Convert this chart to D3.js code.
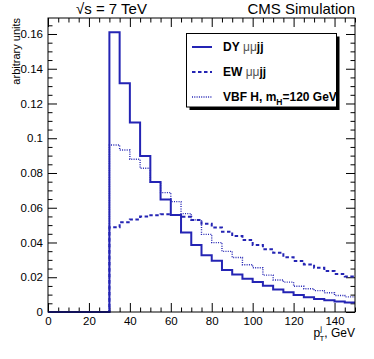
<!DOCTYPE html>
<html>
<head>
<meta charset="utf-8">
<script src="https://cdn.jsdelivr.net/npm/d3@7"></script>
<style>
  body { margin: 0; background: #fff; }
  svg { display: block; font-family: "Liberation Sans", Arial, sans-serif; }
</style>
</head>
<body>
<svg id="canvas" width="374" height="359"></svg>
<script>
'use strict';

/* bin lower edges, 5 GeV wide, 0..150 */
var binLow = d3.range(0, 150, 5);
var xTicks = [0, 20, 40, 60, 80, 100, 120, 140];
var yTicks = [0, 0.02, 0.04, 0.06, 0.08, 0.1, 0.12, 0.14, 0.16];

/* normalised pT distributions */
var dyValues = [0, 0, 0, 0, 0, 0,
  0.161, 0.1316, 0.109, 0.0898, 0.0748, 0.0648, 0.0558, 0.0457, 0.0386, 0.0326,
  0.0295, 0.0242, 0.0216, 0.0192, 0.0172, 0.0151, 0.013, 0.0113, 0.0098, 0.0085,
  0.0075, 0.0068, 0.006, 0.0054];
var ewValues = [0, 0, 0, 0, 0, 0,
  0.0488, 0.0517, 0.0533, 0.0549, 0.0557, 0.0562, 0.0558, 0.0548, 0.053, 0.0508,
  0.0487, 0.0462, 0.0437, 0.0414, 0.0386, 0.0361, 0.0341, 0.0315, 0.0294, 0.0274,
  0.0255, 0.0236, 0.0219, 0.0205];
var vbfValues = [0, 0, 0, 0, 0, 0,
  0.0961, 0.0932, 0.0879, 0.0827, 0.0748, 0.0687, 0.0635, 0.0566, 0.053, 0.0447,
  0.0399, 0.0349, 0.0314, 0.0272, 0.0255, 0.0212, 0.0184, 0.0172, 0.0148, 0.0134,
  0.0123, 0.0111, 0.0095, 0.0087];

var seriesNames = ['DY', 'EW', 'VBF H, m'];
var lineColor = '#2424b4';

/* plot frame */
var padLeft = 48, padRight = 355, padTop = 18, padBottom = 312;
var svg = d3.select('#canvas');

var x = d3.scaleLinear().domain([0, 150]).range([padLeft, padRight]);
var y = d3.scaleLinear().domain([0, 0.1692]).range([padBottom, padTop]);

/* ticks: majors + minors, all pointing into the frame */
function addAxis(axisFn, scale, values, size, transform, fmt){
  var ax = axisFn(scale).tickValues(values).tickSize(size).tickPadding(5)
    .tickFormat(fmt || '');
  var g = svg.append('g').attr('transform', transform).call(ax);
  g.select('.domain').remove();
  g.selectAll('line').attr('stroke', '#000');
  g.selectAll('text').attr('font-size', 11.5).attr('fill', '#000');
  return g;
}
var xMinor = d3.range(0, 151, 5).filter(function(d){ return d % 20 !== 0; });
var yMinor = d3.range(0, 0.1691, 0.005).filter(function(d){
  return Math.abs(d / 0.02 - Math.round(d / 0.02)) > 1e-6; });

addAxis(d3.axisBottom, x, xTicks, -9, 'translate(0,' + padBottom + ')', function(d){ return d; });
addAxis(d3.axisBottom, x, xMinor, -4.5, 'translate(0,' + padBottom + ')');
addAxis(d3.axisTop, x, xTicks, -9, 'translate(0,' + padTop + ')');
addAxis(d3.axisTop, x, xMinor, -4.5, 'translate(0,' + padTop + ')');
addAxis(d3.axisLeft, y, yTicks, -9, 'translate(' + padLeft + ',0)', function(d){ return d === 0 ? '0' : String(d); });
addAxis(d3.axisLeft, y, yMinor, -4.5, 'translate(' + padLeft + ',0)');
addAxis(d3.axisRight, y, yTicks, -9, 'translate(' + padRight + ',0)');
addAxis(d3.axisRight, y, yMinor, -4.5, 'translate(' + padRight + ',0)');

/* histograms as step lines */
function stepPoints(vals){
  var pts = binLow.map(function(b, i){ return [b, vals[i]]; });
  pts.push([150, vals[vals.length - 1]]);
  return pts;
}
var line = d3.line()
  .x(function(d){ return x(d[0]); })
  .y(function(d){ return y(d[1]); })
  .curve(d3.curveStepAfter);

var hists = [
  { vals: dyValues, width: 2, dash: null },
  { vals: ewValues, width: 2, dash: '3.5,2.5' },
  { vals: vbfValues, width: 1.4, dash: '1,1.3' }
];
svg.append('g').selectAll('path')
  .data(hists)
  .enter().append('path')
    .attr('d', function(d){ return line(stepPoints(d.vals)); })
    .attr('fill', 'none')
    .attr('stroke', lineColor)
    .attr('stroke-width', function(d){ return d.width; })
    .attr('stroke-dasharray', function(d){ return d.dash; });

/* frame */
svg.append('rect')
  .attr('x', padLeft).attr('y', padTop)
  .attr('width', padRight - padLeft).attr('height', padBottom - padTop)
  .attr('fill', 'none').attr('stroke', '#000').attr('stroke-width', 1);

/* legend */
var lg = { x: 186.5, y: 33.5, w: 150, h: 73.5 };
svg.append('rect')
  .attr('x', lg.x + 3).attr('y', lg.y + 3)
  .attr('width', lg.w).attr('height', lg.h).attr('fill', '#000');
svg.append('rect')
  .attr('x', lg.x).attr('y', lg.y)
  .attr('width', lg.w).attr('height', lg.h)
  .attr('fill', '#fff').attr('stroke', '#000').attr('stroke-width', 1);
svg.append('clipPath').attr('id', 'lgclip')
  .append('rect').attr('x', lg.x).attr('y', lg.y).attr('width', lg.w).attr('height', lg.h);

var rowsY = [47, 72, 97];
var legend = svg.append('g').attr('clip-path', 'url(#lgclip)');
hists.forEach(function(h, i){
  legend.append('line')
    .attr('x1', 192).attr('x2', 212)
    .attr('y1', rowsY[i]).attr('y2', rowsY[i])
    .attr('stroke', lineColor)
    .attr('stroke-width', h.width)
    .attr('stroke-dasharray', h.dash);
  var t = legend.append('text')
    .attr('x', 223).attr('y', rowsY[i] + 4)
    .attr('font-size', 12).attr('font-weight', 'bold');
  t.append('tspan').text(seriesNames[i]);
  if (i < 2){
    t.append('tspan').attr('font-weight', 'normal').attr('fill', '#555').text(' μμ');
    t.append('tspan').text('jj');
  } else {
    t.append('tspan').attr('font-size', 8.5).attr('dy', 4).text('H');
    t.append('tspan').attr('dy', -4).text('=120 GeV');
  }
});

/* titles */
svg.append('text').attr('x', 76).attr('y', 14)
  .attr('font-size', 15).text('√s = 7 TeV');
svg.append('text').attr('x', 355).attr('y', 14)
  .attr('text-anchor', 'end').attr('font-size', 15).text('CMS Simulation');

svg.append('text')
  .attr('transform', 'translate(20,' + padTop + ') rotate(-90)')
  .attr('text-anchor', 'end').attr('font-size', 11)
  .text('arbitrary units');

var xt = svg.append('text').attr('x', 355).attr('y', 337)
  .attr('text-anchor', 'end').attr('font-size', 12);
xt.append('tspan').text('p');
xt.append('tspan').attr('font-size', 8).attr('dy', -6).text('j');
xt.append('tspan').attr('font-size', 8).attr('dx', -2.5).attr('dy', 10).text('T');
xt.append('tspan').attr('dy', -4).text(', GeV');
</script>
</body>
</html>
